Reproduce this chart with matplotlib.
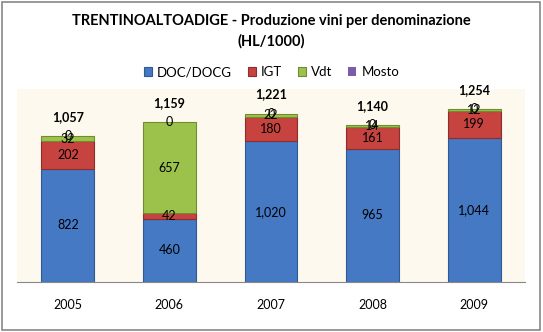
import matplotlib.pyplot as plt
import numpy as np
from matplotlib.patches import Rectangle

plt.rcParams["font.family"] = ["Lato", "DejaVu Sans"]

years = ["2005", "2006", "2007", "2008", "2009"]
series = ["DOC/DOCG", "IGT", "Vdt", "Mosto"]
doc = [822, 460, 1020, 965, 1044]
igt = [202, 42, 180, 161, 199]
vdt = [32, 657, 22, 14, 12]
mosto = [0, 0, 0, 0, 0]
totals = [1057, 1159, 1221, 1140, 1254]

colors = ["#4579C4", "#C6433F", "#9DC24C", "#7E5BA6"]
edges = ["#2E5A94", "#8E2E2C", "#6F8C32", "#5A3F7A"]

fig = plt.figure(figsize=(5.43, 3.32), dpi=100)
fig.patch.set_facecolor("white")
fig.patches.append(Rectangle((0.003, 0.005), 0.992, 0.99, transform=fig.transFigure,
                             fill=False, edgecolor="#888888", linewidth=1.2))

ax = fig.add_axes([17 / 543, 50 / 332, 508 / 543, 193 / 332])
ax.set_facecolor("#FEF9EE")

x = np.arange(len(years))
width = 0.52
bottom = np.zeros(len(years))
for vals, c, e, name in zip([doc, igt, vdt, mosto], colors, edges, series):
    vals = np.array(vals, dtype=float)
    lw = [0.8 if v > 0 else 0 for v in vals]
    ax.bar(x, vals, width, bottom=bottom, color=c, edgecolor=e, linewidth=lw, label=name)
    for i in range(len(years)):
        ax.text(x[i], bottom[i] + vals[i] / 2, f"{int(vals[i]):,}", ha="center", va="center",
                fontsize=9, color="black")
    bottom += vals

for i, t in enumerate(totals):
    ax.text(x[i], bottom[i] + 95, f"{t:,}", ha="center", va="bottom", fontsize=9,
            fontweight="bold")

ax.set_xlim(-0.5, len(years) - 0.5)
ax.set_ylim(0, 1400)
ax.set_xticks(x)
ax.set_xticklabels(years, fontsize=9)
ax.tick_params(axis="x", length=0, pad=12)
ax.set_yticks([])
for s in ["top", "right", "left"]:
    ax.spines[s].set_visible(False)
ax.spines["bottom"].set_color("#888888")

fig.text(0.5, 0.905, "TRENTINOALTOADIGE - Produzione vini per denominazione\n(HL/1000)",
         ha="center", va="center", fontsize=10.5, fontweight="bold", linespacing=1.55)

fig.legend(loc="center", bbox_to_anchor=(0.5, 0.783), ncol=4, frameon=False, fontsize=9.5,
           handlelength=0.6, handleheight=0.6, handletextpad=0.4, columnspacing=1.2)

plt.savefig("out.png", dpi=100)
